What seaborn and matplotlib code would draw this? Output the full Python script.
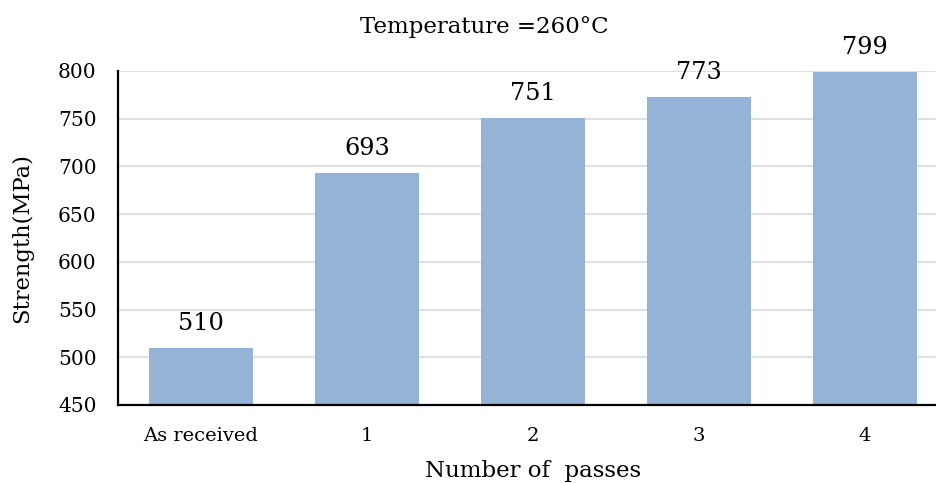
import matplotlib
matplotlib.use("Agg")
import matplotlib.pyplot as plt
import seaborn as sns
import pandas as pd

categories = ["As received", "1", "2", "3", "4"]
strength = [510, 693, 751, 773, 799]
y_ticks = [450, 500, 550, 600, 650, 700, 750, 800]

sns.set_theme(style="white")
plt.rcParams["font.family"] = ["DejaVu Serif"]

df = pd.DataFrame({"passes": categories, "strength": strength})

fig = plt.figure(figsize=(9.36, 4.83), dpi=100)
ax = fig.add_axes([118 / 936, 1 - 405 / 483, 830 / 936, (405 - 71) / 483])

sns.barplot(data=df, x="passes", y="strength", color="#95B3D7",
            saturation=1, width=0.627, linewidth=0, ax=ax, zorder=2)

ax.set_ylim(450, 800)
ax.set_xlim(-0.5, 4.5)
ax.set_yticks(y_ticks)
ax.yaxis.grid(True, color="#D9D9D9", linewidth=1.2, zorder=0)
ax.set_axisbelow(True)

for side in ("top", "right"):
    ax.spines[side].set_visible(False)
for side in ("left", "bottom"):
    ax.spines[side].set_color("black")
    ax.spines[side].set_linewidth(1.6)

ax.tick_params(axis="y", labelsize=14.5, length=0, pad=15.5, colors="black")
ax.tick_params(axis="x", labelsize=14, length=0, pad=16, colors="black")

ax.bar_label(ax.containers[0], labels=[str(v) for v in strength],
             padding=9.5, fontsize=17.3, color="black")

ax.set_xlabel("Number of  passes", fontsize=16.5, color="black", labelpad=10.5)
ax.set_ylabel("Strength(MPa)", fontsize=16.3, color="black", labelpad=18)
fig.text(484 / 936, 1 - 27 / 483, "Temperature =260\u00b0C", ha="center",
         va="center", fontsize=16.5, color="black")

fig.savefig("out.png", dpi=100)
